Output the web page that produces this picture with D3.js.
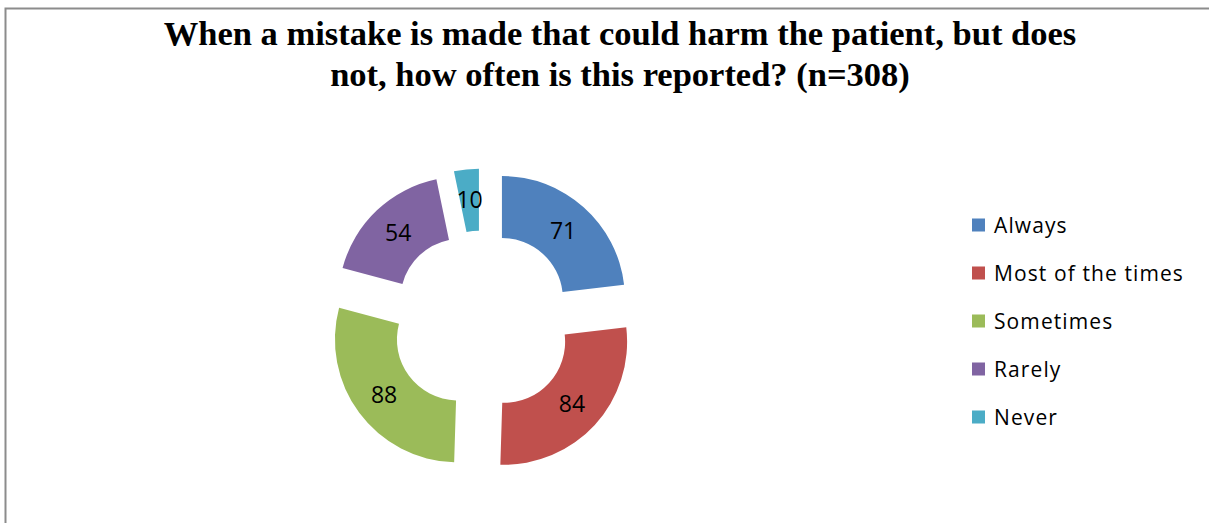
<!DOCTYPE html>
<html>
<head>
<meta charset="utf-8">
<script src="https://cdn.jsdelivr.net/npm/d3@7"></script>
<style>
  body { margin: 0; background: #fff; }
  svg { display: block; }
</style>
</head>
<body>
<div id="wrapper"></div>
<script>
// data
const categories = ['Always', 'Most of the times', 'Sometimes', 'Rarely', 'Never']
const values = [71, 84, 88, 54, 10]
const colors = ['#4F81BD', '#C0504D', '#9BBB59', '#8064A2', '#4BACC6']
const titleLines = [
  'When a mistake is made that could harm the patient, but does',
  'not, how often is this reported? (n=308)'
]

function drawChart() {
  const dataset = categories.map((c, i) => ({ category: c, value: values[i] }))

  //1. dimensions
  const dimensions = {
    width: 1209,
    height: 523,
    cx: 482,
    cy: 321.5,
    outer: 123,
    inner: 61,
    explode: 30,
  }

  //2. canvas
  const wrapper = d3.select('#wrapper')
    .append('svg')
    .attr('width', dimensions.width)
    .attr('height', dimensions.height)

  // chart border (runs off the right and bottom of the view)
  wrapper.append('rect')
    .attr('x', 5.5)
    .attr('y', 8.5)
    .attr('width', 1300)
    .attr('height', 600)
    .attr('fill', 'none')
    .attr('stroke', '#8c8c8c')
    .attr('stroke-width', 2)

  //3. title
  wrapper.append('g')
    .selectAll('text')
    .data(titleLines)
    .enter()
    .append('text')
    .attr('x', 620)
    .attr('y', (d, i) => 45 + i * 41)
    .attr('text-anchor', 'middle')
    .style('font-family', '"Liberation Serif", "Times New Roman", serif')
    .style('font-weight', 'bold')
    .style('font-size', '34.5px')
    .text(d => d)

  //4. pie + arcs
  const pie = d3.pie()
    .value(d => d.value)
    .sort(null)
  const arcs = pie(dataset)

  const arcGenerator = d3.arc()
    .innerRadius(dimensions.inner)
    .outerRadius(dimensions.outer)

  const colorScale = d3.scaleOrdinal()
    .domain(categories)
    .range(colors)

  const bounds = wrapper.append('g')
    .attr('transform', `translate(${dimensions.cx},${dimensions.cy})`)

  const offset = d => {
    const a = (d.startAngle + d.endAngle) / 2
    return [Math.sin(a) * dimensions.explode, -Math.cos(a) * dimensions.explode]
  }

  const slices = bounds.selectAll('.slice')
    .data(arcs)
    .enter()
    .append('g')
    .attr('class', 'slice')
    .attr('transform', d => `translate(${offset(d)})`)

  slices.append('path')
    .attr('d', arcGenerator)
    .attr('fill', d => colorScale(d.data.category))

  slices.append('text')
    .attr('transform', d => `translate(${arcGenerator.centroid(d)})`)
    .attr('text-anchor', 'middle')
    .attr('dy', '0.36em')
    .style('font-family', '"Open Sans", sans-serif')
    .style('font-size', '23px')
    .attr('fill', '#000')
    .text(d => d.data.value)

  //5. legend
  const legend = wrapper.append('g')
    .attr('transform', 'translate(972, 225)')

  const items = legend.selectAll('g')
    .data(categories)
    .enter()
    .append('g')
    .attr('transform', (d, i) => `translate(0, ${i * 48})`)

  items.append('rect')
    .attr('x', 0)
    .attr('y', -6.5)
    .attr('width', 13)
    .attr('height', 13)
    .attr('fill', d => colorScale(d))

  items.append('text')
    .attr('x', 22)
    .attr('dy', '0.36em')
    .style('font-family', '"Open Sans", sans-serif')
    .style('font-size', '21px')
    .style('letter-spacing', '1.1px')
    .attr('fill', '#000')
    .text(d => d)
}

drawChart()
</script>
</body>
</html>
